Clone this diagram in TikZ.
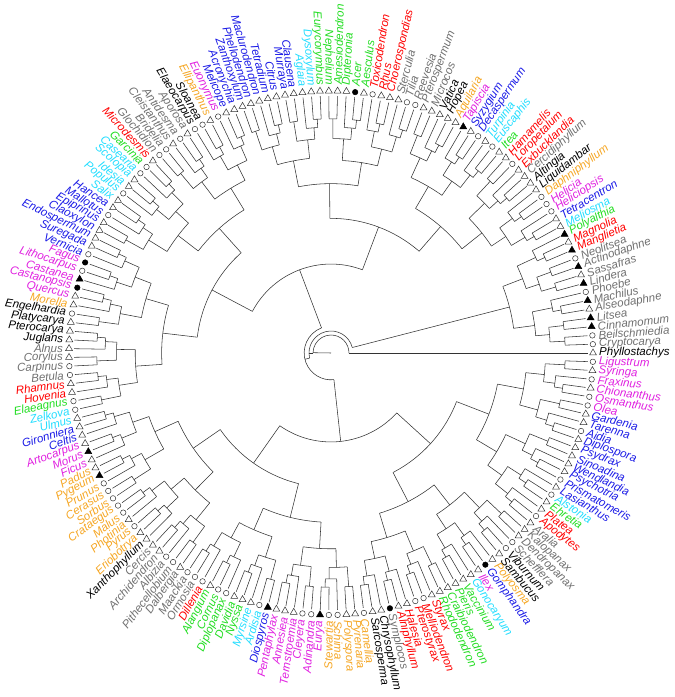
\documentclass[tikz,border=0pt]{standalone}
\usepackage{fontspec}
\setmainfont{Liberation Sans}
\usetikzlibrary{shapes.geometric}
\definecolor{bk}{HTML}{000000}
\definecolor{gy}{HTML}{707070}
\definecolor{rd}{HTML}{FF0000}
\definecolor{gn}{HTML}{22DD22}
\definecolor{cy}{HTML}{22DDFF}
\definecolor{bl}{HTML}{1A1AE6}
\definecolor{mg}{HTML}{E020E0}
\definecolor{or}{HTML}{F5A623}
\def\Rt{257}
\def\dA{1.925134}
\newcommand\clade[3]{%
 \begingroup
 \pgfmathtruncatemacro\cLo{#1}%
 \pgfmathtruncatemacro\cHi{#2}%
 \pgfmathsetmacro\cRp{#3}%
 \pgfmathsetmacro\cAm{(\cLo+\cHi-2)/2*\dA}%
 \ifnum\cLo=\cHi\relax
   \draw[br] (\cAm:\cRp pt) -- (\cAm:\Rt pt);
 \else
   \pgfmathsetmacro\cRn{max(\Rt*(1-0.93*((\cHi-\cLo)/186)^0.45),\cRp+4)}%
   \draw[br] (\cAm:\cRp pt) -- (\cAm:\cRn pt);
   \pgfmathtruncatemacro\cMid{floor((\cLo+\cHi)/2)}%
   \ifnum\cLo=1 \ifnum\cHi=187 \def\cMid{1}\fi\fi
   \ifnum\cLo=2 \ifnum\cHi=187 \def\cMid{15}\fi\fi
   \pgfmathsetmacro\cAa{(\cLo+\cMid-2)/2*\dA}%
   \pgfmathsetmacro\cAb{(\cMid+1+\cHi-2)/2*\dA}%
   \draw[br] (\cAa:\cRn pt) arc[start angle=\cAa,end angle=\cAb,radius=\cRn pt];
   \pgfmathtruncatemacro\cMp{\cMid+1}%
   \edef\cNext{\noexpand\clade{\cLo}{\cMid}{\cRn}\noexpand\clade{\cMp}{\cHi}{\cRn}}%
   \cNext
 \fi
 \endgroup}
\begin{document}
\begin{tikzpicture}[x=1pt,y=1pt,
  br/.style={draw=black!80,line width=0.55pt},
  mk t/.style={regular polygon,regular polygon sides=3,draw=black!80,fill=white,minimum size=8pt,inner sep=0pt,line width=0.5pt},
  mk T/.style={mk t,fill=black,draw=black},
  mk c/.style={circle,draw=black!80,fill=white,minimum size=5.5pt,inner sep=0pt,line width=0.5pt},
  mk C/.style={mk c,fill=black,draw=black},
  lab/.style={font=\fontsize{11.5}{12}\selectfont\itshape,inner sep=0pt}]
\useasboundingbox (0,0) rectangle (675,697);
\begin{scope}[shift={(331,344)}]
\clade{1}{187}{0}
\foreach \n/\c/\m [count=\i] in {
Phyllostachys/bk/t,Cryptocarya/gy/c,Beilschmiedia/gy/c,Cinnamomum/gy/T,Litsea/gy/T,Alseodaphne/gy/t,Machilus/gy/T,Phoebe/gy/c,Lindera/gy/T,Sassafras/gy/t,Actinodaphne/gy/T,Neolitsea/gy/c,
Manglietia/rd/T,Magnolia/rd/t,Polyalthia/gn/T,Meliosma/cy/t,Tetracentron/bl/t,Heliciopsis/mg/c,Helicia/mg/c,Daphniphyllum/or/c,Liquidambar/bk/t,Altingia/bk/t,Cercidiphyllum/gy/t,
Exbucklandia/rd/t,Loropetalum/rd/c,Hamamelis/rd/t,Itea/gn/t,Euscaphis/cy/c,Turpinia/cy/t,Decaspermum/bl/c,Syzygium/bl/t,Tapiscia/mg/T,Aquilaria/or/t,Hopea/bk/t,Vatica/bk/t,
Microcos/gy/t,Pterospermum/gy/t,Reevesia/gy/c,Tilia/gy/c,Sterculia/gy/t,Choerospondias/rd/t,Rhus/rd/t,Toxicodendron/rd/c,Aesculus/gn/t,Acer/gn/C,Dipteronia/gn/t,Amesiodendron/gn/t,
Nephelium/gn/t,Eurycorymbus/gn/t,Dysoxylum/cy/t,Aglaia/cy/t,Clausena/bl/t,Murraya/bl/t,Citrus/bl/t,Tetradium/bl/t,Maclurodendron/bl/t,Phellodendron/bl/t,Zanthoxylum/bl/t,
Acronychia/bl/t,Melicope/bl/t,Euonymus/mg/c,Ellipanthus/or/t,Sloanea/bk/c,Elaeocarpus/bk/c,Aporosa/gy/t,Antidesma/gy/c,Cleistanthus/gy/t,Bridelia/gy/c,Glochidion/gy/c,
Microdesmis/rd/t,Garcinia/gn/c,Casearia/cy/c,Scolopia/cy/t,Idesia/cy/t,Populus/cy/c,Salix/cy/t,Hancea/bl/t,Mallotus/bl/c,Epiprinus/bl/t,Claoxylon/bl/t,Endospermum/bl/t,
Suregada/bl/t,Vernicia/bl/c,Fagus/mg/C,Lithocarpus/mg/c,Castanea/mg/T,Castanopsis/mg/C,Quercus/mg/t,Morella/or/t,Engelhardia/bk/c,Platycarya/bk/t,Pterocarya/bk/t,Juglans/bk/t,
Alnus/gy/t,Corylus/gy/t,Carpinus/gy/c,Betula/gy/c,Rhamnus/rd/t,Hovenia/rd/t,Elaeagnus/gn/c,Zelkova/cy/c,Ulmus/cy/t,Gironniera/bl/t,Celtis/bl/t,Artocarpus/mg/t,Morus/mg/T,
Ficus/mg/t,Padus/or/t,Pygeum/or/T,Prunus/or/c,Cerasus/or/c,Sorbus/or/c,Crataegus/or/c,Malus/or/c,Photinia/or/t,Pyrus/or/c,Eriobotrya/or/t,Xanthophyllum/bk/t,Cercis/gy/t,
Archidendron/gy/t,Albizia/gy/c,Pithecellobium/gy/c,Dalbergia/gy/t,Maackia/gy/c,Ormosia/gy/c,Dillenia/rd/c,Alangium/gn/t,Cornus/gn/c,Diplopanax/gn/c,Davidia/gn/t,Nyssa/gn/t,
Myrsine/cy/t,Ardisia/cy/c,Diospyros/bl/T,Pentaphylax/mg/t,Annesiea/mg/t,Ternstroemia/mg/t,Cleyera/mg/c,Adinandra/mg/c,Eurya/mg/T,Stewartia/or/c,Schima/or/c,Polyspora/or/t,
Pyrenaria/or/t,Camellia/or/c,Sarcosperma/bk/t,Chrysophyllum/bk/t,Symplocos/gy/C,Alniphyllum/rd/t,Halesia/rd/t,Pterostyrax/rd/c,Melliodendron/rd/c,Styrax/rd/t,
Rhododendron/gn/t,Craibiodendron/gn/t,Pieris/gn/t,Vaccinium/gn/t,Gonocaryum/cy/t,Ilex/mg/t,Gomphandra/bl/C,Polyosma/or/t,Sambucus/bk/t,Viburnum/bk/c,Schefflera/gy/c,
Dendropanax/gy/t,Kalopanax/gy/t,Aralia/gy/t,Apodytes/rd/c,Platea/rd/t,Ehretia/gn/t,Alstonia/cy/c,Lasianthus/bl/t,Prismatomeris/bl/c,Psychotria/bl/t,Wendlandia/bl/t,
Sinoadina/bl/t,Psydrax/bl/t,Diplospora/bl/t,Aidia/bl/c,Tarenna/bl/t,Gardenia/bl/t,Olea/mg/c,Osmanthus/mg/c,Chionanthus/mg/t,Fraxinus/mg/c,Syringa/mg/t,Ligustrum/mg/c}{
  \pgfmathsetmacro\a{(\i-1)*\dA}
  \node[mk \m] (m\i) at (\a:262pt) {};
  \ifdim\a pt>90pt \ifdim\a pt<270pt
     \node[lab,text=\c,anchor=east,rotate=\a-180] (tip\i) at (\a:268pt) {\n};
   \else
     \node[lab,text=\c,anchor=west,rotate=\a] (tip\i) at (\a:268pt) {\n};
   \fi
  \else
     \node[lab,text=\c,anchor=west,rotate=\a] (tip\i) at (\a:268pt) {\n};
  \fi
}
\end{scope}
\end{tikzpicture}
\end{document}
